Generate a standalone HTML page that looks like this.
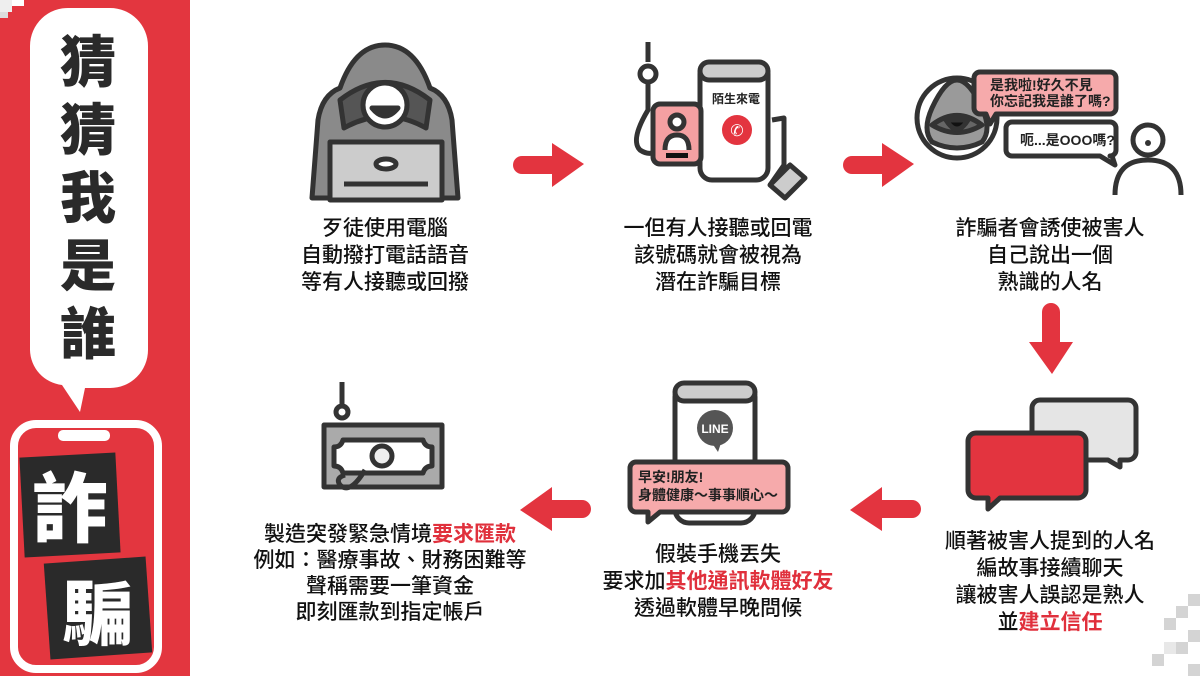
<!DOCTYPE html>
<html><head><meta charset="utf-8"><style>
html,body{margin:0;padding:0;background:#fff;}
svg{display:block;}
text{font-family:"Liberation Sans","Noto Sans CJK TC",sans-serif;}
.t{font-size:21px;fill:#111;text-anchor:middle;font-weight:500;}
.r{fill:#e0303c;font-weight:700;}
</style></head><body>
<svg width="1200" height="676" viewBox="0 0 1200 676" xmlns="http://www.w3.org/2000/svg">
<defs>
<g id="arR"><path d="M0,-8 H30 V-21 L62,0 L30,23 V10 H0 A9,9 0 0 1 0,-8Z" fill="#e3343f"/></g>
</defs>
<rect x="0" y="0" width="190" height="676" fill="#e3363f"/>
<rect x="0" y="0" width="12" height="12" fill="#eee"/><rect x="12" y="0" width="12" height="6" fill="#fff"/><rect x="0" y="12" width="8" height="6" fill="#ddd"/>
<path d="M70,8 H110 A38,38 0 0 1 148,46 V350 A38,38 0 0 1 110,388 H85 L80,412 L62,385 A36,36 0 0 1 30,350 V46 A38,38 0 0 1 70,8Z" fill="#fff"/>
<g font-size="56" font-weight="900" fill="#2a2a2a" text-anchor="middle" style="font-family:'Noto Sans CJK TC',sans-serif">
<text x="88" y="82">猜</text><text x="88" y="150">猜</text><text x="88" y="218">我</text><text x="88" y="286">是</text><text x="88" y="354">誰</text>
</g>
<rect x="14" y="424" width="144" height="245" rx="22" fill="none" stroke="#fff" stroke-width="8"/>
<rect x="58" y="430" width="52" height="11" rx="5" fill="#fff"/>
<g transform="rotate(-3 70 505)"><rect x="22" y="455" width="96" height="100" fill="#2a2a2a"/></g>
<text x="70" y="536" font-size="76" font-weight="900" fill="#fff" text-anchor="middle" style="font-family:'Noto Sans CJK TC',sans-serif">詐</text>
<g transform="rotate(-4 98 608)"><rect x="47" y="560" width="102" height="96" fill="#2a2a2a"/></g>
<text x="98" y="640" font-size="72" font-weight="900" fill="#fff" text-anchor="middle" style="font-family:'Noto Sans CJK TC',sans-serif">騙</text>

<g fill="#d4d4d4"><rect x="1164" y="618" width="12" height="12"/><rect x="1176" y="606" width="12" height="12"/><rect x="1188" y="594" width="12" height="12"/><rect x="1152" y="654" width="12" height="12"/><rect x="1176" y="642" width="12" height="12"/><rect x="1188" y="630" width="12" height="12"/><rect x="1164" y="642" width="12" height="12" fill="#e8e8e8"/><rect x="1188" y="664" width="12" height="12"/></g>

<!-- hacker icon -->
<g stroke="#333" stroke-width="5" stroke-linejoin="round">
<path d="M312,198 L318,120 Q322,95 340,88 Q355,45 385,45 Q415,45 430,88 Q448,95 452,120 L458,198Z" fill="#8a8a8a"/>
<path d="M340,100 Q385,65 430,100 L426,128 Q385,105 344,128Z" fill="#555"/>
<circle cx="385" cy="105" r="22" fill="#fff"/>
<path d="M372,108 Q385,124 398,108Z" fill="#333"/>
<rect x="330" y="142" width="112" height="58" fill="#ccc"/>
<ellipse cx="386" cy="164" rx="10" ry="5" fill="#fff"/>
<line x1="344" y1="184" x2="428" y2="184"/>
</g>
<!-- phone icon 1 -->
<g stroke="#333" stroke-width="5" stroke-linejoin="round">
<path d="M648,42 V62" fill="none"/><circle cx="648" cy="74" r="8" fill="#fff"/>
<path d="M648,82 V110 Q630,140 640,150 Q655,160 665,140" fill="none"/>
<rect x="700" y="62" width="68" height="118" rx="12" fill="#fff"/>
<rect x="700" y="62" width="68" height="18" rx="9" fill="#ccc"/>
<path d="M772,120 L784,118 V165 L770,185" fill="none"/>
<path d="M770,185 L790,165 L805,178 L785,198Z" fill="#ccc"/>
<rect x="653" y="104" width="48" height="60" rx="7" fill="#f4a0a2"/>
<circle cx="677" cy="122" r="7" fill="#fff"/><path d="M665,150 Q665,135 677,135 Q689,135 689,150" fill="#fff"/>
</g>
<rect x="666" y="153" width="22" height="5" fill="#111"/>
<circle cx="737" cy="130" r="15" fill="#e3343f"/>
<text x="737" y="136" font-size="16" fill="#fff" text-anchor="middle">✆</text>
<text x="736" y="103" font-size="12" font-weight="700" fill="#222" text-anchor="middle">陌生來電</text>
<!-- icon 3 -->
<g stroke="#333" stroke-width="5" stroke-linejoin="round">
<circle cx="957" cy="118" r="40" fill="#fff"/>
<path d="M932,142 Q922,130 932,108 Q945,80 957,80 Q969,80 982,108 Q992,130 982,142 Q957,154 932,142Z" fill="#9a9a9a"/>
<path d="M932,125 Q957,106 982,125 Q957,140 932,125Z" fill="#666"/>
<path d="M946,120 Q957,138 968,120Z" fill="#111"/>
<path d="M980,72 H1110 A6,6 0 0 1 1116,78 V108 A6,6 0 0 1 1110,114 H996 L990,124 L986,114 H980 A6,6 0 0 1 974,108 V78 A6,6 0 0 1 980,72Z" fill="#f6aaab"/>
<path d="M1012,122 H1110 A6,6 0 0 1 1116,128 V150 A6,6 0 0 1 1110,156 H1112 L1115,165 L1100,156 H1012 A6,6 0 0 1 1006,150 V128 A6,6 0 0 1 1012,122Z" fill="#fff"/>
<circle cx="1148" cy="140" r="15" fill="#fff"/>
<path d="M1115,195 Q1115,160 1148,160 Q1181,160 1181,195" fill="none"/>
</g>
<circle cx="1148" cy="143" r="3" fill="#333"/>
<text x="990" y="90" font-size="14" font-weight="700" fill="#222">是我啦!好久不見</text>
<text x="990" y="106" font-size="14" font-weight="700" fill="#222">你忘記我是誰了嗎?</text>
<text x="1020" y="145" font-size="14" font-weight="700" fill="#222">呃...是OOO嗎?</text>

<!-- money -->
<g stroke="#333" stroke-width="5" stroke-linejoin="round">
<line x1="342" y1="382" x2="342" y2="405"/><circle cx="342" cy="412" r="6" fill="#fff"/>
<rect x="324" y="425" width="118" height="62" fill="#aaa"/>
<path d="M343,440 H423 Q425,447 432,447 V466 Q425,466 423,473 H343 Q341,466 334,466 V447 Q341,447 343,440Z" fill="#fff"/>
<circle cx="382" cy="456" r="10" fill="#eee"/>
<path d="M365,470 Q350,495 340,485 Q335,478 345,475" fill="none"/>
</g>
<!-- LINE phone -->
<g stroke="#333" stroke-width="5" stroke-linejoin="round">
<rect x="675" y="383" width="80" height="140" rx="14" fill="#fff"/>
<rect x="675" y="383" width="80" height="18" rx="9" fill="#ccc"/>
<path d="M636,462 H782 A6,6 0 0 1 788,468 V506 A6,6 0 0 1 782,512 H660 L648,522 L648,512 H636 A6,6 0 0 1 630,506 V468 A6,6 0 0 1 636,462Z" fill="#f6aaab"/>
</g>
<circle cx="715" cy="428" r="18" fill="#555"/><path d="M710,440 L718,452 L722,440Z" fill="#555"/>
<text x="715" y="433" font-size="12" font-weight="700" fill="#fff" text-anchor="middle">LINE</text>
<text x="638" y="482" font-size="14" font-weight="700" fill="#222">早安!朋友!</text>
<text x="638" y="500" font-size="14" font-weight="700" fill="#222">身體健康～事事順心～</text>
<!-- chat bubbles -->
<g stroke="#333" stroke-width="5" stroke-linejoin="round">
<path d="M1040,400 H1128 A8,8 0 0 1 1136,408 V452 A8,8 0 0 1 1128,460 H1120 V467 L1108,460 H1040 A8,8 0 0 1 1032,452 V408 A8,8 0 0 1 1040,400Z" fill="#e5e5e5"/>
<path d="M976,433 H1078 A8,8 0 0 1 1086,441 V490 A8,8 0 0 1 1078,498 H1000 L988,509 V498 H976 A8,8 0 0 1 968,490 V441 A8,8 0 0 1 976,433Z" fill="#e3343f"/>
</g>

<use href="#arR" transform="translate(522,164)"/>
<use href="#arR" transform="translate(852,164)"/>
<use href="#arR" transform="translate(1052,312) rotate(90)"/>
<use href="#arR" transform="translate(912,510) rotate(180)"/>
<use href="#arR" transform="translate(582,510) rotate(180)"/>

<text class="t" x="385" y="235">歹徒使用電腦</text>
<text class="t" x="385" y="262">自動撥打電話語音</text>
<text class="t" x="385" y="289">等有人接聽或回撥</text>
<text class="t" x="718" y="235">一但有人接聽或回電</text>
<text class="t" x="718" y="262">該號碼就會被視為</text>
<text class="t" x="718" y="289">潛在詐騙目標</text>
<text class="t" x="1050" y="235">詐騙者會誘使被害人</text>
<text class="t" x="1050" y="262">自己說出一個</text>
<text class="t" x="1050" y="289">熟識的人名</text>
<text class="t" x="390" y="541">製造突發緊急情境<tspan class="r">要求匯款</tspan></text>
<text class="t" x="390" y="567">例如：醫療事故、財務困難等</text>
<text class="t" x="390" y="593">聲稱需要一筆資金</text>
<text class="t" x="390" y="619">即刻匯款到指定帳戶</text>
<text class="t" x="718" y="561">假裝手機丟失</text>
<text class="t" x="718" y="588">要求加<tspan class="r">其他通訊軟體好友</tspan></text>
<text class="t" x="718" y="615">透過軟體早晚問候</text>
<text class="t" x="1050" y="548">順著被害人提到的人名</text>
<text class="t" x="1050" y="575">編故事接續聊天</text>
<text class="t" x="1050" y="602">讓被害人誤認是熟人</text>
<text class="t" x="1050" y="629">並<tspan class="r">建立信任</tspan></text>
</svg>
</body></html>
